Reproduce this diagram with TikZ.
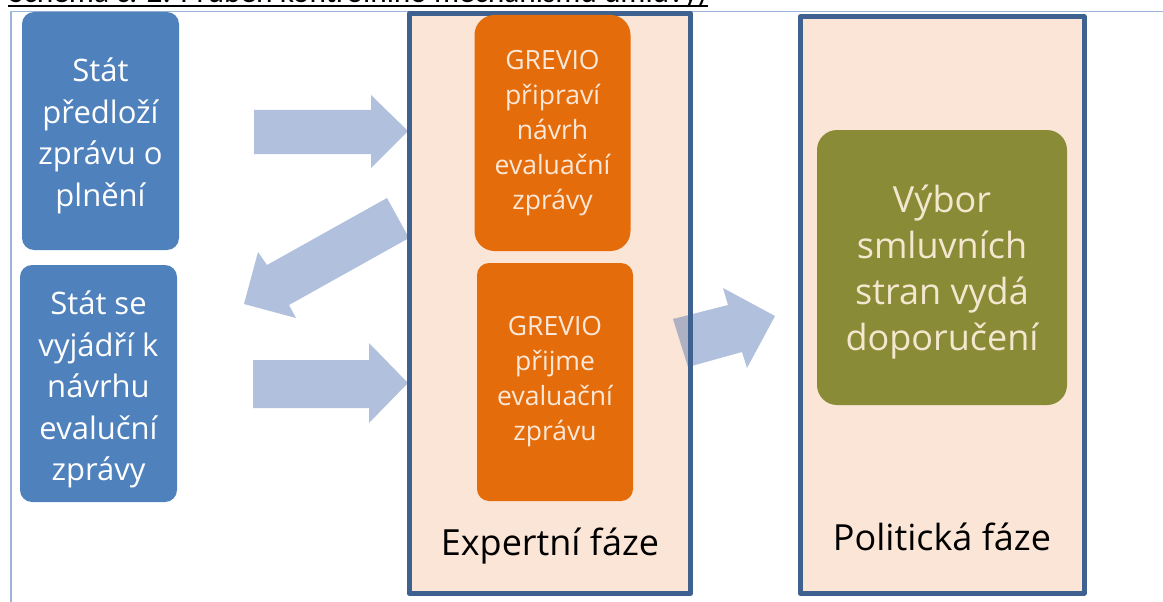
\documentclass[tikz,border=0pt]{standalone}
\usepackage{fontspec}
\setmainfont{Open Sans}
\newfontfamily\capfont{Carlito}
\usepackage{graphicx}
\definecolor{framec}{HTML}{9DB5D8}
\definecolor{panelfill}{HTML}{FBE5D6}
\definecolor{panelborder}{HTML}{3F6190}
\definecolor{bluebox}{HTML}{4F81BD}
\definecolor{orangebox}{HTML}{E46C0A}
\definecolor{greenbox}{HTML}{8A8B36}
\definecolor{arrowc}{HTML}{3C64AA}
\definecolor{lighttext}{HTML}{FCE8D8}
\definecolor{greentext}{HTML}{F4E7CF}
\tikzset{
  stepbox/.style={rounded corners=12pt, inner sep=0pt, align=center, draw=none},
  bluestyle/.style={stepbox, fill=bluebox, minimum width=157pt},
  bluetext/.style={inner sep=0pt, align=center, text=white, font=\fontsize{31}{41.5}\selectfont},
  orangestyle/.style={stepbox, fill=orangebox, text=lighttext, font=\fontsize{26.5}{35}\selectfont, minimum width=156pt},
  greenstyle/.style={stepbox, rounded corners=20pt, fill=greenbox},
  greentextstyle/.style={inner sep=0pt, align=center, text=greentext, font=\fontsize{36}{46}\selectfont},
  panelstyle/.style={fill=panelfill, draw=none, inner sep=0pt},
  panelline/.style={draw=panelborder, line width=5pt, line join=round},
  phaselabel/.style={text=black, font=\fontsize{36}{44}\selectfont, inner sep=0pt},
  blockarrow/.style={fill=arrowc, fill opacity=0.4, draw=none}
}
\begin{document}
\begin{tikzpicture}[x=1pt,y=-1pt]
\useasboundingbox (0,0) rectangle (1163,602);
\fill[white] (0,0) rectangle (1163,602);
% partially visible caption
\begin{scope}
\clip (0,0) rectangle (1163,602);
\node[anchor=base west, inner sep=0pt, text=black] (cap) at (9,2.5)
  {\resizebox{698pt}{!}{\capfont Schéma č. 2: Průběh kontrolního mechanismu úmluvy)}};
\end{scope}
\coordinate (ulA) at (8,6);
\coordinate (ulB) at (708,6);
\draw[line width=2pt] (ulA) -- (ulB);
% outer frame
\coordinate (frTR) at (1163,11.5);
\coordinate (frTL) at (11,11.5);
\coordinate (frBL) at (11,602);
\draw[framec, line width=1.5pt] (frTR) -- (frTL) -- (frBL);
% panels (fill)
\node[panelstyle, minimum width=281pt, minimum height=579.5pt] (exp) at (550,303.25) {};
\node[panelstyle, minimum width=283.5pt, minimum height=576pt] (pol) at (942.25,305) {};
% block arrows
\fill[blockarrow] (254,110) -- (371,110) -- (371,95) -- (408,131) -- (371,168) -- (371,154) -- (254,154) -- cycle;
\fill[blockarrow] (387,198) -- (409,238) -- (289,305) -- (296,318) -- (244,304) -- (258,252) -- (267,265) -- cycle;
\fill[blockarrow] (253,360) -- (369,360) -- (369,343) -- (408,383) -- (369,423) -- (369,408) -- (253,408) -- cycle;
\fill[blockarrow] (673,319) -- (728,305) -- (723,288) -- (775,316) -- (747,368) -- (742,352) -- (688,367) -- cycle;
% panel borders
\draw[panelline] (exp.north west) rectangle (exp.south east);
\draw[panelline] (pol.north west) rectangle (pol.south east);
% boxes
\node[bluestyle, minimum height=238pt] (b1) at (100.5,131) {};
\node[bluetext] (b1t) at (100.5,136) {Stát\\předloží\\zprávu o\\plnění};
\node[bluestyle, minimum height=237pt] (b2) at (98.5,383.5) {};
\node[bluetext] (b2t) at (98.5,389.5) {Stát se\\vyjádří k\\návrhu\\evaluční\\zprávy};
\node[orangestyle, rounded corners=20pt, minimum height=236pt] (o1) at (552.5,133) {GREVIO\\připraví\\návrh\\evaluační\\zprávy};
\node[orangestyle, minimum height=238pt] (o2) at (555,382) {GREVIO\\přijme\\evaluační\\zprávu};
\node[greenstyle, minimum width=250pt, minimum height=275pt] (g1) at (942,267.5) {};
\node[greentextstyle] (g1t) at (942,272) {Výbor\\smluvních\\stran vydá\\doporučení};
% phase labels
\node[phaselabel] (expl) at (550,546) {Expertní fáze};
\node[phaselabel] (poll) at (942,537) {Politická fáze};
\end{tikzpicture}
\end{document}
